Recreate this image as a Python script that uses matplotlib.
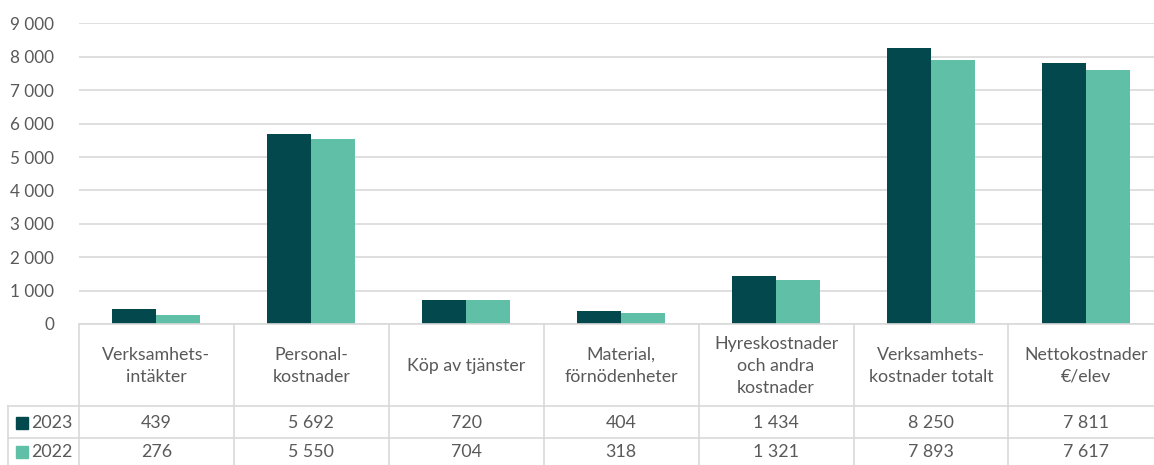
import matplotlib
matplotlib.use("Agg")
import matplotlib.pyplot as plt
import matplotlib.transforms as mtransforms
from matplotlib.patches import Rectangle

plt.rcParams['font.family'] = ['Lato', 'DejaVu Sans']

categories = ["Verksamhets-\nintäkter", "Personal-\nkostnader", "Köp av tjänster",
              "Material,\nförnödenheter", "Hyreskostnader\noch andra\nkostnader",
              "Verksamhets-\nkostnader totalt", "Nettokostnader\n€/elev"]
series_names = ["2023", "2022"]
values_2023 = [439, 5692, 720, 404, 1434, 8250, 7811]
values_2022 = [276, 5550, 704, 318, 1321, 7893, 7617]
yticks = [0, 1000, 2000, 3000, 4000, 5000, 6000, 7000, 8000, 9000]

c_dark = "#03484C"
c_light = "#5FBFA7"
txt = "#595959"
grid = "#D9D9D9"
fs = 12.8

W, H = 1154, 465
fig = plt.figure(figsize=(W / 100, H / 100), dpi=100)

y0_px, ytop_px = 324, 23.4
left_px, right_px = 79, 79 + 7 * 154.9
ax = fig.add_axes([left_px / W, (H - y0_px) / H, (right_px - left_px) / W, (y0_px - ytop_px) / H])
n = len(categories)
x = list(range(n))
bw = 0.284
ax.bar([i - bw / 2 for i in x], values_2023, width=bw, color=c_dark, zorder=3)
ax.bar([i + bw / 2 for i in x], values_2022, width=bw, color=c_light, zorder=3)
ax.set_xlim(-0.5, n - 0.5)
ax.set_ylim(0, 9000)
ax.set_yticks(yticks)
ax.set_yticklabels([f"{v:,}".replace(",", " ") for v in yticks], color=txt, fontsize=12.3)
ax.tick_params(axis='y', length=0, pad=18)
ax.set_xticks([])
for s in ax.spines.values():
    s.set_visible(False)
ax.yaxis.grid(True, color=grid, linewidth=1.2, zorder=0)

# overlay in pixel coordinates for the data table
ov = fig.add_axes([0, 0, 1, 1], zorder=5)
ov.set_xlim(0, W)
ov.set_ylim(H, 0)
ov.axis('off')
ov.patch.set_alpha(0)
tr = mtransforms.blended_transform_factory(ax.transData, ov.transData)

r_top, r1, r2, r_bot = 324, 406, 438, 470
lw = 1.2
ov.plot([left_px, right_px], [r_top, r_top], color=grid, lw=lw, clip_on=False)
ov.plot([8, right_px], [r1, r1], color=grid, lw=lw)
ov.plot([8, right_px], [r2, r2], color=grid, lw=lw)
ov.plot([8, 8], [r1, r_bot], color=grid, lw=lw)
for i in range(n + 1):
    ov.plot([i - 0.5, i - 0.5], [r_top, r_bot], color=grid, lw=lw, transform=tr, clip_on=False)

for i, cat in enumerate(categories):
    ov.text(i, (r_top + r1) / 2 + 1, cat, transform=tr, ha='center', va='center',
            color=txt, fontsize=fs, linespacing=1.45)
    ov.text(i, (r1 + r2) / 2 + 1, f"{values_2023[i]:,}".replace(",", " "), transform=tr,
            ha='center', va='center', color=txt, fontsize=fs)
    ov.text(i, (r2 + r_bot) / 2 - 2, f"{values_2022[i]:,}".replace(",", " "), transform=tr,
            ha='center', va='center', color=txt, fontsize=fs)

for name, yc, col in [(series_names[0], (r1 + r2) / 2 + 1, c_dark), (series_names[1], (r2 + r_bot) / 2 - 2, c_light)]:
    ov.add_patch(Rectangle((16, yc - 6), 12, 12, color=col))
    ov.text(31, yc, name, ha='left', va='center', color=txt, fontsize=fs)

fig.savefig("out.png", dpi=100, facecolor="white")
